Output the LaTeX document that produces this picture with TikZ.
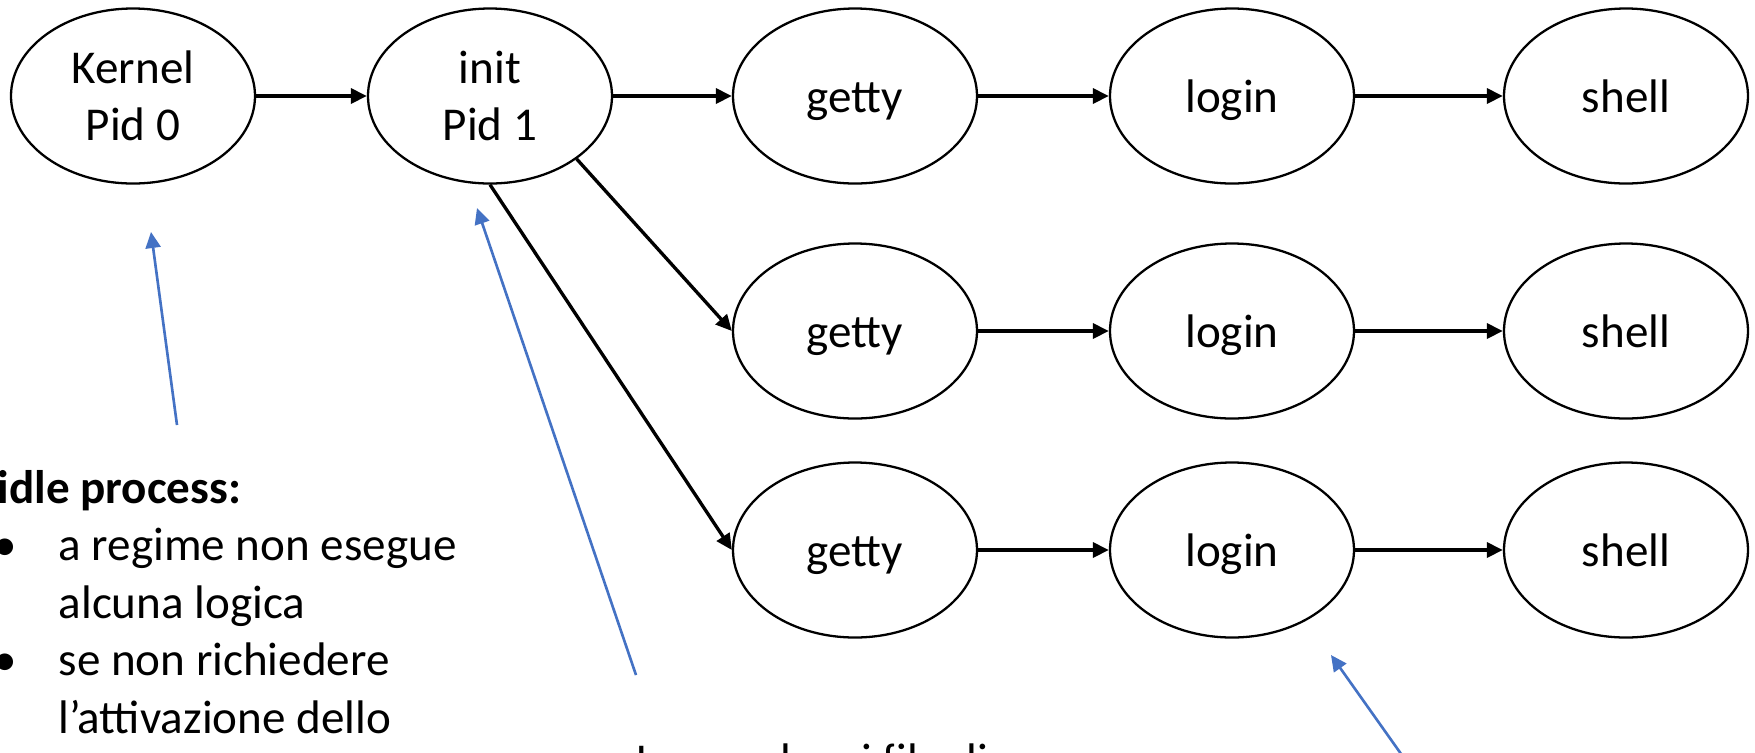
\documentclass[tikz,border=0pt]{standalone}
\usepackage{fontspec}
\setmainfont{Carlito}
\usetikzlibrary{arrows.meta, shapes.geometric}
\definecolor{noteblue}{HTML}{4472C4}
\newcommand{\slidefont}{\fontsize{13.4pt}{16.36pt}\selectfont}
\newcommand{\lstrut}{\rule[-3.6pt]{0pt}{16.36pt}}
\newcommand{\itm}{\makebox[6.1mm][l]{\kern-0.4mm•}}
\newcommand{\cont}{\hspace*{6.1mm}}
\tikzset{
  proc/.style={
    ellipse,
    draw,
    line width=0.65pt,
    minimum width=24.4mm,
    minimum height=17.5mm,
    inner sep=0pt,
    align=center,
    font=\slidefont
  },
  arrow/.style={-{Triangle[length=1.6mm, width=1.5mm]}, line width=0.95pt},
  notearrow/.style={-{Triangle[length=1.6mm, width=1.5mm]}, line width=0.75pt, draw=noteblue, fill=noteblue},
  note/.style={anchor=base west, inner sep=0pt, align=left, font=\slidefont}
}

\begin{document}
\begin{tikzpicture}[x=0.1mm,y=-0.1mm]
\useasboundingbox (0,0) rectangle (1755,752);
\clip (0,0) rectangle (1755,752);

\node[proc] (kernel) at (133,96) {\lstrut Kernel\\\lstrut Pid 0};
\node[proc] (init) at (490,96) {\lstrut init\\\lstrut Pid 1};
\node[proc] (getty1) at (855,96) {\lstrut getty};
\node[proc] (login1) at (1232,96) {\lstrut login};
\node[proc] (shell1) at (1626,96) {\lstrut shell};
\node[proc] (getty2) at (855,331) {\lstrut getty};
\node[proc] (login2) at (1232,331) {\lstrut login};
\node[proc] (shell2) at (1626,331) {\lstrut shell};
\node[proc] (getty3) at (855,550) {\lstrut getty};
\node[proc] (login3) at (1232,550) {\lstrut login};
\node[proc] (shell3) at (1626,550) {\lstrut shell};

\draw[arrow] (kernel) -- (init);
\draw[arrow] (init) -- (getty1);
\draw[arrow] (init.-36) -- (getty2.west);
\draw[arrow] (init.south) -- (getty3.west);
\draw[arrow] (getty1) -- (login1);
\draw[arrow] (login1) -- (shell1);
\draw[arrow] (getty2) -- (login2);
\draw[arrow] (login2) -- (shell2);
\draw[arrow] (getty3) -- (login3);
\draw[arrow] (login3) -- (shell3);

% annotations (cut off by the slide edge)
\node[note] (idletext) at (-3,733) {\textbf{idle process:}\\
  \itm a regime non esegue\\
  \cont alcuna logica\\
  \itm se non richiedere\\
  \cont l’attivazione dello};
\node[note] (inittext) at (575,776) {\itm Legge alcuni file di};

\coordinate (kernelnote) at (151,232);
\coordinate (idlenote) at (177,425);
\coordinate (initnote) at (477,208);
\coordinate (inittail) at (636,675);
\coordinate (loginnote) at (1331,655);
\coordinate (logintail) at (1416,775);
\draw[notearrow] (idlenote) -- (kernelnote);
\draw[notearrow] (inittail) -- (initnote);
\draw[notearrow] (logintail) -- (loginnote);
\end{tikzpicture}
\end{document}
